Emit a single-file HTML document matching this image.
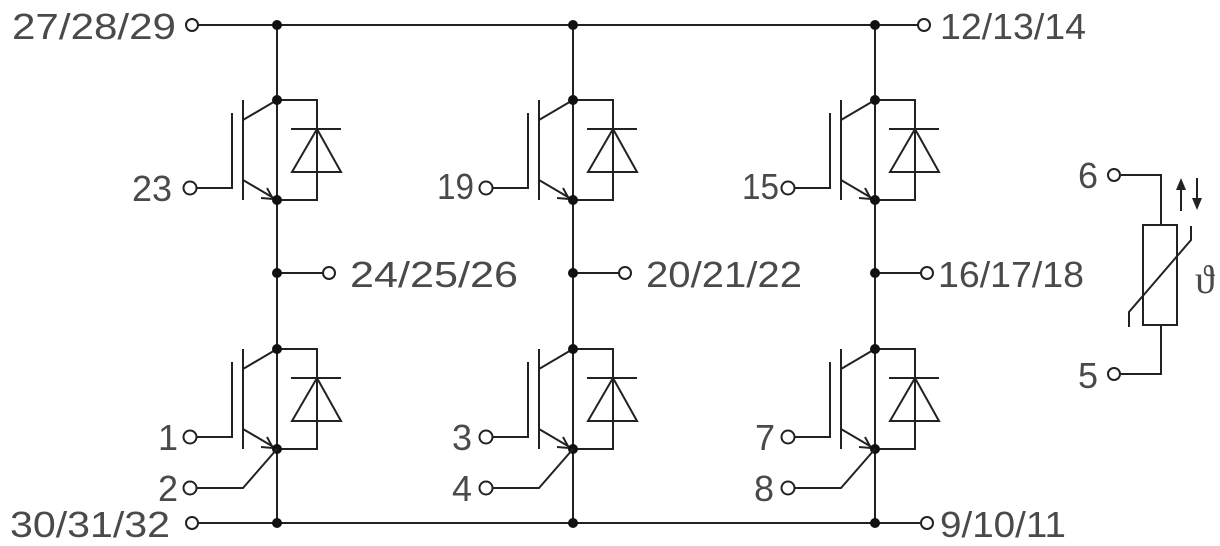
<!DOCTYPE html>
<html><head><meta charset="utf-8"><style>
html,body{margin:0;padding:0;background:#fff;}
svg{display:block;}
text{font-family:"Liberation Sans Narrow","Liberation Sans",sans-serif;font-size:36px;fill:#4a4a4a;}
</style></head><body>
<svg width="1220" height="546" viewBox="0 0 1220 546" xmlns="http://www.w3.org/2000/svg">
<defs>
<g id="ig" stroke="#222" stroke-width="2" fill="none">
  <path d="M-45,13 V88 H-81"/>
  <circle cx="-87" cy="88" r="6.5" fill="#fff"/>
  <path d="M-34,0 V100"/>
  <path d="M-34,20 L0,0 M-34,80 L0,100"/>
  <path d="M-16,98 L-4,99 L-10,88"/>
  <path d="M0,0 H40 V100 H0"/>
  <path d="M14,29 H64 M15,72 H64 L40,29 Z"/>
  <circle cx="0" cy="0" r="5" fill="#111" stroke="none"/>
  <circle cx="0" cy="100" r="5" fill="#111" stroke="none"/>
</g>
<g id="em" stroke="#222" stroke-width="2" fill="none">
  <path d="M0,100 L-34,139 H-81"/>
  <circle cx="-87" cy="139" r="6.5" fill="#fff"/>
</g>
</defs>
<g stroke="#222" stroke-width="2" fill="none">
  <path d="M198,25 H918"/>
  <path d="M198,523 H920"/>
  <path d="M277,25 V523 M573,25 V523 M875,25 V523"/>
  <path d="M277,273 H323 M573,273 H619 M875,273 H921"/>
  <circle cx="192" cy="25" r="6" fill="#fff"/>
  <circle cx="924" cy="25" r="6" fill="#fff"/>
  <circle cx="192" cy="523" r="6" fill="#fff"/>
  <circle cx="927" cy="523" r="6" fill="#fff"/>
  <circle cx="329" cy="273" r="6" fill="#fff"/>
  <circle cx="625" cy="273" r="6" fill="#fff"/>
  <circle cx="927" cy="273" r="6" fill="#fff"/>
  <path d="M1121,175 H1161 V225 M1161,325 V374 H1121"/>
  <rect x="1143" y="225" width="34" height="100"/>
  <path d="M1129,327 V312 L1191,240 V226"/>
  <circle cx="1114" cy="175" r="6" fill="#fff"/>
  <circle cx="1114" cy="374" r="6" fill="#fff"/>
  <path d="M1181,211 V186 M1197,178 V200"/>
</g>
<path d="M1176,190 L1181,178 L1186,190 Z M1192,198 L1197,210 L1202,198 Z" fill="#222"/>
<g fill="#111">
  <circle cx="277" cy="25" r="5"/><circle cx="573" cy="25" r="5"/><circle cx="875" cy="25" r="5"/>
  <circle cx="277" cy="273" r="5"/><circle cx="573" cy="273" r="5"/><circle cx="875" cy="273" r="5"/>
  <circle cx="277" cy="523" r="5"/><circle cx="573" cy="523" r="5"/><circle cx="875" cy="523" r="5"/>
</g>
<use href="#ig" x="277" y="100"/>
<use href="#ig" x="573" y="100"/>
<use href="#ig" x="875" y="100"/>
<use href="#ig" x="277" y="349"/>
<use href="#ig" x="573" y="349"/>
<use href="#ig" x="875" y="349"/>
<use href="#em" x="277" y="349"/>
<use href="#em" x="573" y="349"/>
<use href="#em" x="875" y="349"/>
<text x="12" y="39" textLength="164" lengthAdjust="spacingAndGlyphs">27/28/29</text>
<text x="940" y="39" textLength="146" lengthAdjust="spacingAndGlyphs">12/13/14</text>
<text x="350" y="287" textLength="168" lengthAdjust="spacingAndGlyphs">24/25/26</text>
<text x="646" y="287" textLength="156" lengthAdjust="spacingAndGlyphs">20/21/22</text>
<text x="938" y="287" textLength="146" lengthAdjust="spacingAndGlyphs">16/17/18</text>
<text x="10" y="537" textLength="160" lengthAdjust="spacingAndGlyphs">30/31/32</text>
<text x="940" y="537" textLength="126" lengthAdjust="spacingAndGlyphs">9/10/11</text>
<text x="132" y="201" textLength="40" lengthAdjust="spacingAndGlyphs">23</text>
<text x="437" y="199" textLength="37" lengthAdjust="spacingAndGlyphs">19</text>
<text x="742" y="199" textLength="37" lengthAdjust="spacingAndGlyphs">15</text>
<text x="158" y="450">1</text>
<text x="158" y="501">2</text>
<text x="452" y="450">3</text>
<text x="452" y="501">4</text>
<text x="755" y="450">7</text>
<text x="754" y="501">8</text>
<text x="1078" y="188">6</text>
<text x="1078" y="388">5</text>
<text x="1195" y="293" style="font-family:'Liberation Serif',serif;font-size:40px">ϑ</text>
</svg>
</body></html>
